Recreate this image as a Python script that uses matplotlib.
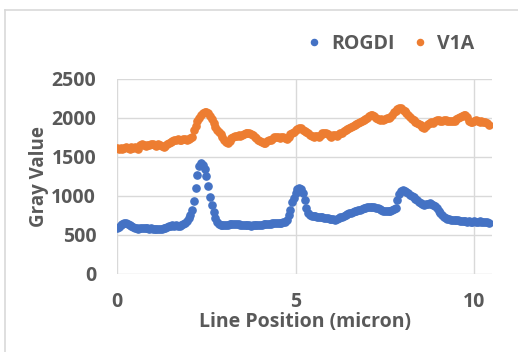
import numpy as np
import matplotlib
matplotlib.use("Agg")
from matplotlib import pyplot as plt
from matplotlib.lines import Line2D


# Gray value profiles, sampled every 0.05 micron from 0 to 10.4
step = 0.05

rogdi = [
    585, 600, 625, 645, 655, 650, 640, 625, 610, 600,
    590, 585, 580, 585, 590, 585, 590, 585, 580, 585,
    580, 575, 578, 572, 575, 580, 585, 590, 600, 610,
    615, 620, 615, 620, 615, 610, 620, 635, 650, 680,
    715, 760, 820, 935, 1105, 1270, 1385, 1415, 1395, 1340,
    1250, 1120, 990, 885, 790, 715, 670, 645, 630, 622,
    620, 625, 630, 635, 638, 640, 636, 638, 635, 632,
    630, 628, 625, 622, 620, 618, 620, 622, 625, 628,
    630, 632, 635, 638, 640, 642, 645, 648, 650, 652,
    655, 656, 658, 660, 665, 690, 755, 820, 925, 970,
    1035, 1085, 1095, 1085, 1035, 950, 845, 780, 755, 745,
    740, 738, 735, 730, 728, 725, 722, 718, 712, 708,
    705, 698, 692, 705, 718, 728, 735, 745, 758, 770,
    778, 785, 795, 802, 808, 815, 825, 835, 842, 850,
    855, 860, 863, 860, 855, 848, 842, 830, 820, 812,
    808, 802, 800, 805, 815, 830, 850, 945, 1030, 1060,
    1075, 1068, 1055, 1035, 1012, 995, 982, 965, 948, 925,
    905, 892, 885, 890, 898, 905, 900, 885, 870, 840,
    810, 780, 755, 730, 712, 705, 700, 695, 690, 688,
    692, 686, 684, 678, 675, 672, 670, 675, 670, 668,
    672, 670, 668, 672, 670, 666, 662, 660, 655,
]

v1a = [
    1610, 1600, 1615, 1605, 1610, 1620, 1615, 1605, 1620, 1615,
    1625, 1610, 1600, 1655, 1660, 1650, 1640, 1655, 1650, 1660,
    1665, 1655, 1640, 1660, 1650, 1635, 1625, 1640, 1660, 1675,
    1685, 1700, 1710, 1720, 1730, 1710, 1715, 1725, 1730, 1720,
    1725, 1740, 1760, 1840, 1890, 1960, 2000, 2040, 2060, 2080,
    2075, 2060, 2030, 1980, 1930, 1880, 1850, 1820, 1795, 1750,
    1715, 1695, 1680, 1700, 1740, 1755, 1765, 1770, 1775, 1770,
    1785, 1795, 1800, 1810, 1805, 1790, 1775, 1760, 1740, 1720,
    1700, 1685, 1675, 1680, 1700, 1715, 1720, 1735, 1750, 1760,
    1755, 1745, 1750, 1760, 1740, 1725, 1760, 1790, 1800, 1815,
    1840, 1860, 1870, 1865, 1850, 1830, 1820, 1800, 1780, 1765,
    1760, 1770, 1765, 1760, 1775, 1800, 1810, 1805, 1790, 1770,
    1760, 1780, 1785, 1770, 1790, 1800, 1810, 1830, 1845, 1860,
    1870, 1880, 1895, 1910, 1920, 1930, 1950, 1960, 1975, 1990,
    2000, 2020, 2035, 2040, 2030, 2000, 1985, 1975, 1980, 1970,
    1985, 1995, 2000, 2015, 2040, 2070, 2090, 2110, 2125, 2120,
    2105, 2085, 2060, 2035, 2010, 1985, 1970, 1950, 1935, 1920,
    1905, 1880, 1870, 1890, 1920, 1940, 1945, 1935, 1955, 1970,
    1975, 1965, 1960, 1975, 1970, 1960, 1965, 1955, 1960, 1965,
    1980, 1995, 2010, 2020, 2035, 2040, 2010, 1960, 1945, 1950,
    1960, 1975, 1965, 1950, 1955, 1945, 1950, 1930, 1905,
]

x_ticks = [0, 5, 10]
y_ticks = [0, 500, 1000, 1500, 2000, 2500]

text_color = "#595959"
grid_color = "#d9d9d9"

plt.rcParams["font.family"] = ["Open Sans", "DejaVu Sans"]
plt.rcParams["font.weight"] = "bold"

fig = plt.figure(figsize=(5.18, 3.52), dpi=100)
ax = fig.add_axes([0.226, 0.222, 0.724, 0.554])

x_rogdi = np.arange(len(rogdi)) * step
x_v1a = np.arange(len(v1a)) * step
ax.plot(x_rogdi, rogdi, "o", color="#4472C4", markersize=5.2, label="ROGDI")
ax.plot(x_v1a, v1a, "o", color="#ED7D31", markersize=5.2, label="V1A")

ax.set_xlim(0, 10.5)
ax.set_ylim(0, 2500)
ax.set_xticks(x_ticks)
ax.set_yticks(y_ticks)
ax.grid(True, color=grid_color, linewidth=1)
ax.set_axisbelow(True)
for s in ax.spines.values():
    s.set_visible(False)
ax.tick_params(length=0, labelsize=14, colors=text_color)
ax.tick_params(axis="x", pad=13)
ax.tick_params(axis="y", pad=15)
for lab in ax.get_xticklabels() + ax.get_yticklabels():
    lab.set_fontweight("bold")

ax.set_xlabel("Line Position (micron)", fontsize=14, color=text_color,
              fontweight="bold", labelpad=0)
ax.set_ylabel("Gray Value", fontsize=13.5, color=text_color,
              fontweight="bold", labelpad=2)

ax.legend(loc="center", bbox_to_anchor=(0.742, 0.875), bbox_transform=fig.transFigure,
          ncol=2, frameon=False, labelcolor=text_color,
          handletextpad=-0.1, columnspacing=0.3, markerscale=0.85,
          prop={"weight": "bold", "size": 14})

# chart frame (only top and left edges are visible in the crop)
fig.add_artist(Line2D([5 / 518, 1.0], [1 - 10 / 352, 1 - 10 / 352],
                      transform=fig.transFigure, color="#d9d9d9", linewidth=1.2))
fig.add_artist(Line2D([5 / 518, 5 / 518], [0.0, 1 - 10 / 352],
                      transform=fig.transFigure, color="#d9d9d9", linewidth=1.2))

fig.savefig("out.png", dpi=100)
